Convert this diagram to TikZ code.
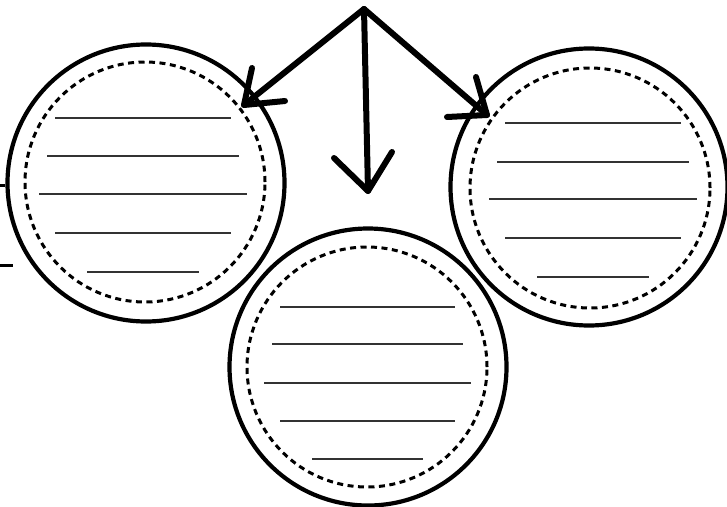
\documentclass[tikz,border=0pt]{standalone}
\begin{document}
\begin{tikzpicture}[x=1pt,y=-1pt,
  outer/.style={draw=black,line width=4.2pt,circle,minimum size=277pt,inner sep=0pt},
  inner/.style={draw=black,line width=3pt,dash pattern=on 6pt off 4.5pt,circle,minimum size=240pt,inner sep=0pt},
  rule/.style={draw=black!80,line width=2.2pt},
  pen/.style={draw=black,line width=6pt,line cap=round,line join=round}]
\useasboundingbox (0,0) rectangle (727,506);
\fill[white] (0,0) rectangle (727,506);
% circles
\node[outer] (L) at (146,183) {};
\node[inner] (Li) at (145,182) {};
\node[outer] (R) at (589,187) {};
\node[inner] (Ri) at (590,188) {};
\node[outer] (B) at (368,367) {};
\node[inner] (Bi) at (367,367) {};
% ruled lines, left
\draw[rule] (55,118) -- (231,118);
\draw[rule] (47,156) -- (239,156);
\draw[rule] (39,194) -- (247,194);
\draw[rule] (55,233) -- (231,233);
\draw[rule] (87,272) -- (199,272);
% right
\draw[rule] (505,123) -- (681,123);
\draw[rule] (497,162) -- (689,162);
\draw[rule] (489,199) -- (697,199);
\draw[rule] (505,238) -- (681,238);
\draw[rule] (537,277) -- (649,277);
% bottom
\draw[rule] (280,307) -- (455,307);
\draw[rule] (272,344) -- (463,344);
\draw[rule] (264,383) -- (471,383);
\draw[rule] (280,421) -- (455,421);
\draw[rule] (312,459) -- (423,459);
% arrows
\coordinate (apex) at (364,9);
\coordinate (tl) at (244,105);
\coordinate (tm) at (368,191);
\coordinate (tr) at (487,115);
\draw[pen] (apex) -- (tl);
\draw[pen] (252,68) -- (tl) -- (285,101);
\draw[pen] (apex) -- (tm);
\draw[pen] (334,158) -- (tm) -- (392,152);
\draw[pen] (apex) -- (tr);
\draw[pen] (476,77) -- (tr) -- (447,117);
% edge marks
\draw[line width=3pt] (0,185) -- (5,185);
\draw[line width=3pt] (0,265) -- (13,265);
\end{tikzpicture}
\end{document}
